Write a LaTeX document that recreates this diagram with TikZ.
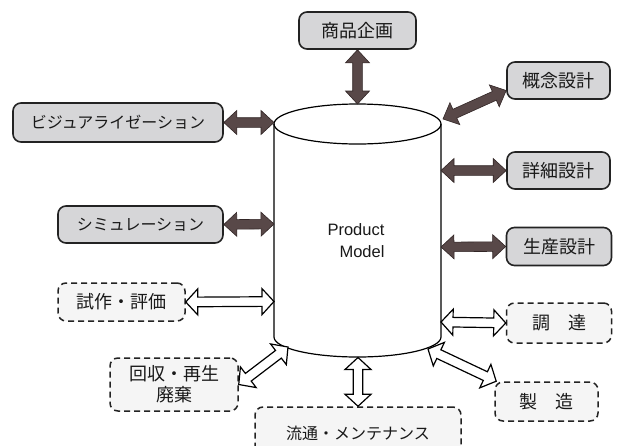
\documentclass[tikz,border=0pt]{standalone}
\usepackage{fontspec}
\setmainfont{Liberation Sans}
\newfontfamily\jp{Noto Sans CJK JP}
\usetikzlibrary{calc}
\definecolor{boxgray}{RGB}{214,214,216}
\definecolor{dashfill}{RGB}{245,245,245}
\definecolor{darkarr}{RGB}{88,72,72}
\definecolor{darkedge}{RGB}{50,38,38}
\definecolor{lineblk}{RGB}{35,35,35}
\newcommand\fatarrowdraw[7]{% style, from, to, head length, head half width, shaft half width
  \path let \p1=(#2), \p2=(#3), \n1={atan2(\y2-\y1,\x2-\x1)}, \n2={veclen(\x2-\x1,\y2-\y1)} in
    \pgfextra{\xdef\myang{\n1}\xdef\mylen{\n2}};
  \begin{scope}[shift={(#2)}, rotate=\myang]
    \draw[#1] (0,0) -- (#4,#5) -- (#4,#6) -- (\mylen-#4,#6) -- (\mylen-#4,#5) -- (\mylen,0)
      -- (\mylen-#4,-#5) -- (\mylen-#4,-#6) -- (#4,-#6) -- (#4,-#5) -- cycle;
  \end{scope}
}
\newcommand\darkarrow[2]{\fatarrowdraw{darkstyle}{#1}{#2}{13}{12}{4.8}{}}
\newcommand\hollowarrow[2]{\fatarrowdraw{hollowstyle}{#1}{#2}{12}{13}{4.8}{}}
\tikzset{
  x=1pt, y=-1pt,
  solidbox/.style={draw=lineblk, line width=1.6pt, fill=boxgray, rounded corners=8pt,
    inner sep=0pt, font=\jp\fontsize{18}{21}\selectfont, text=black!90},
  dashbox/.style={draw=lineblk, line width=1.5pt, dash pattern=on 6pt off 4pt, fill=dashfill,
    rounded corners=8pt, inner sep=0pt, align=center, font=\jp\fontsize{18}{21}\selectfont, text=black!90},
  katafont/.style={font=\jp\fontsize{16}{19}\selectfont},
  darkstyle/.style={fill=darkarr, draw=darkedge, line width=0.6pt, line join=miter},
  hollowstyle/.style={fill=white, draw=black, line width=1.2pt, line join=miter},
  cylline/.style={draw=black, line width=1.2pt},
}
\begin{document}
\begin{tikzpicture}
\useasboundingbox (0,0) rectangle (619,445);
\fill[white] (0,0) rectangle (619,445);
% cylinder
\path[fill=white] (274,124) -- (274,337)
  .. controls (274,348.05) and (311.4,357) .. (357.5,357)
  .. controls (403.6,357) and (441,348.05) .. (441,337) -- (441,124) -- cycle;
\draw[cylline] (357.5,124) ellipse[x radius=83.5pt, y radius=20pt];
\draw[cylline] (274,124) -- (274,337)
  .. controls (274,348.05) and (311.4,357) .. (357.5,357)
  .. controls (403.6,357) and (441,348.05) .. (441,337) -- (441,124);
\node[align=center, font=\fontsize{16.5}{22}\selectfont, text=black!90] (pm) at (356,241) {Product\\\hspace*{12pt}Model};
% named points on the cylinder
\coordinate (cTop) at (357.5,104);
\coordinate (cVis) at (274,122.5);
\coordinate (cGai) at (443,119);
\coordinate (cSho) at (441,170.5);
\coordinate (cSim) at (274,224);
\coordinate (cSei) at (441,247);
\coordinate (cShi) at (274,301.5);
\coordinate (cCho) at (441,322);
\coordinate (cKai) at (288,347);
\coordinate (cRyu) at (358,357.5);
\coordinate (cSez) at (428,349);
% boxes
\node[solidbox, minimum width=117pt, minimum height=37pt] (kikaku) at (357.5,30.5) {商品企画};
\node[solidbox, katafont, minimum width=210pt, minimum height=39pt] (visual) at (118,122.5) {ビジュアライゼーション};
\node[solidbox, minimum width=103pt, minimum height=37pt] (gainen) at (558.5,80.5) {概念設計};
\node[solidbox, minimum width=103pt, minimum height=37pt] (shosai) at (558.5,170.5) {詳細設計};
\node[solidbox, katafont, minimum width=165pt, minimum height=37pt] (simu) at (140.5,224.5) {シミュレーション};
\node[solidbox, minimum width=105pt, minimum height=38pt] (seisan) at (559,246.5) {生産設計};
\node[dashbox, minimum width=127pt, minimum height=38pt] (shisaku) at (121.5,302) {試作・評価};
\node[dashbox, minimum width=105pt, minimum height=40pt] (chotatsu) at (559,323) {調　達};
\node[dashbox, minimum width=128pt, minimum height=53pt] (kaishu) at (174,384.5) {回収・再生\\廃棄};
\node[dashbox, minimum width=103pt, minimum height=39pt] (seizo) at (546.5,401.5) {製　造};
\node[dashbox, katafont, minimum width=206pt, minimum height=52pt] (ryutsu) at (358,433) {流通・メンテナンス};
% arrows
\darkarrow{kikaku.south}{cTop}
\darkarrow{visual.east}{cVis}
\darkarrow{cGai}{[yshift=-10pt]gainen.west}
\darkarrow{cSho}{shosai.west}
\darkarrow{simu.east}{cSim}
\darkarrow{cSei}{seisan.west}
\hollowarrow{shisaku.east}{cShi}
\hollowarrow{cCho}{chotatsu.west}
\hollowarrow{kaishu.east}{cKai}
\hollowarrow{cRyu}{ryutsu.north}
\hollowarrow{cSez}{[xshift=2pt]seizo.north west}
\end{tikzpicture}
\end{document}
